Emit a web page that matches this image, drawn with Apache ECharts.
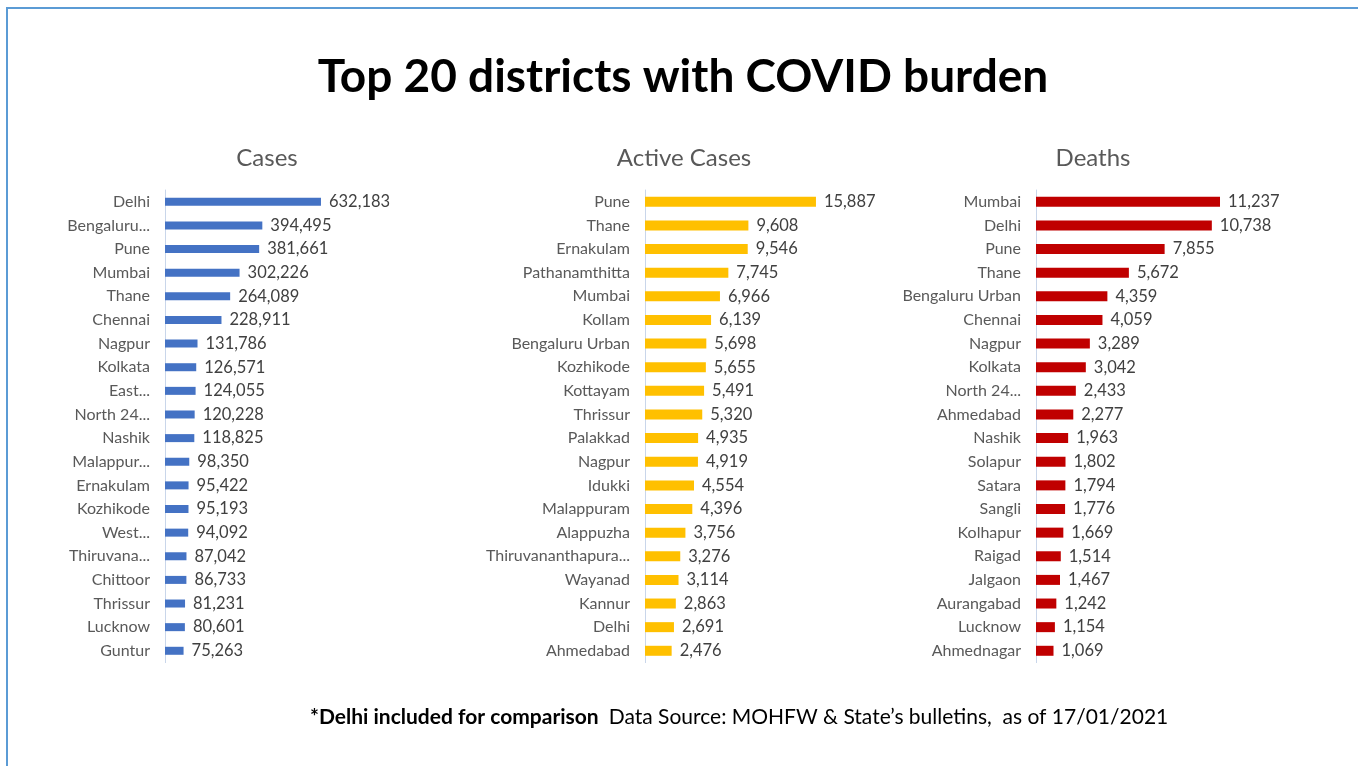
<!DOCTYPE html>
<html>
<head>
<meta charset="utf-8">
<script src="https://cdn.jsdelivr.net/npm/echarts@6/dist/echarts.min.js"></script>
<style>
html,body{margin:0;padding:0;background:#fff;}
#chart{width:1358px;height:766px;}
</style>
</head>
<body>
<div id="chart"></div>
<script>
// ---- Data ----
const casesDistricts = ['Delhi','Bengaluru...','Pune','Mumbai','Thane','Chennai','Nagpur','Kolkata','East...','North 24...','Nashik','Malappur...','Ernakulam','Kozhikode','West...','Thiruvana...','Chittoor','Thrissur','Lucknow','Guntur'];
const casesValues = [632183,394495,381661,302226,264089,228911,131786,126571,124055,120228,118825,98350,95422,95193,94092,87042,86733,81231,80601,75263];

const activeDistricts = ['Pune','Thane','Ernakulam','Pathanamthitta','Mumbai','Kollam','Bengaluru Urban','Kozhikode','Kottayam','Thrissur','Palakkad','Nagpur','Idukki','Malappuram','Alappuzha','Thiruvananthapura...','Wayanad','Kannur','Delhi','Ahmedabad'];
const activeValues = [15887,9608,9546,7745,6966,6139,5698,5655,5491,5320,4935,4919,4554,4396,3756,3276,3114,2863,2691,2476];

const deathsDistricts = ['Mumbai','Delhi','Pune','Thane','Bengaluru Urban','Chennai','Nagpur','Kolkata','North 24...','Ahmedabad','Nashik','Solapur','Satara','Sangli','Kolhapur','Raigad','Jalgaon','Aurangabad','Lucknow','Ahmednagar'];
const deathsValues = [11237,10738,7855,5672,4359,4059,3289,3042,2433,2277,1963,1802,1794,1776,1669,1514,1467,1242,1154,1069];

const panelTitles = ['Cases','Active Cases','Deaths'];
const mainTitle = 'Top 20 districts with COVID burden';
const noteBold = '*Delhi included for comparison';
const noteText = 'Data Source: MOHFW & State\u2019s bulletins,  as of 17/01/2021';

// ---- Chart ----
const FONT = 'Lato, "Open Sans", sans-serif';
const chart = echarts.init(document.getElementById('chart'));
const fmt = v => v.toLocaleString('en-US');

const panels = [
  {cats: casesDistricts, vals: casesValues, color: '#4472C4', left: 165, width: 172.7, max: 700000, barWidth: 8, cx: 262},
  {cats: activeDistricts, vals: activeValues, color: '#FFC000', left: 645, width: 193.7, max: 18000, barWidth: 10, cx: 679},
  {cats: deathsDistricts, vals: deathsValues, color: '#C00000', left: 1036, width: 196.5, max: 12000, barWidth: 10, cx: 1088}
];

const grids = [], xAxes = [], yAxes = [], series = [], titles = [];
titles.push({text: mainTitle, left: 678, textAlign: 'center', top: 49, textStyle: {fontFamily: FONT, fontSize: 46, fontWeight: 'bold', color: '#000'}});
panels.forEach((p, i) => {
  grids.push({left: p.left, width: p.width, top: 190, height: 472.6});
  xAxes.push({type: 'value', gridIndex: i, min: 0, max: p.max, show: false, splitLine: {show: false}});
  yAxes.push({
    type: 'category', gridIndex: i, data: p.cats, inverse: true,
    axisTick: {show: false},
    axisLine: {show: true, lineStyle: {color: '#C9D6EA', width: 1}},
    axisLabel: {color: '#595959', fontFamily: FONT, fontSize: 16, margin: 15}
  });
  series.push({
    type: 'bar', xAxisIndex: i, yAxisIndex: i, data: p.vals, barWidth: p.barWidth,
    itemStyle: {color: p.color},
    label: {show: true, position: 'right', distance: 8, formatter: o => fmt(o.value), color: '#404040', fontFamily: FONT, fontSize: 16.5},
    silent: true, animation: false
  });
  titles.push({text: panelTitles[i], left: p.cx, textAlign: 'center', top: 141, textStyle: {fontFamily: FONT, fontSize: 24, fontWeight: 'normal', color: '#595959'}});
});

chart.setOption({
  animation: false,
  title: titles,
  grid: grids,
  xAxis: xAxes,
  yAxis: yAxes,
  series: series,
  graphic: [
    {type: 'line', shape: {x1: 7, y1: 8, x2: 1358, y2: 8}, style: {stroke: '#5B9BD5', lineWidth: 2}},
    {type: 'line', shape: {x1: 7, y1: 7, x2: 7, y2: 766}, style: {stroke: '#5B9BD5', lineWidth: 2}},
    {type: 'text', left: 310, top: 707, style: {
      text: '{b|' + noteBold + '}   {n|' + noteText + '}',
      rich: {
        b: {fontFamily: FONT, fontSize: 21, fontWeight: 'bold', fill: '#000'},
        n: {fontFamily: FONT, fontSize: 21, fill: '#000'}
      }
    }}
  ]
});
</script>
</body>
</html>
